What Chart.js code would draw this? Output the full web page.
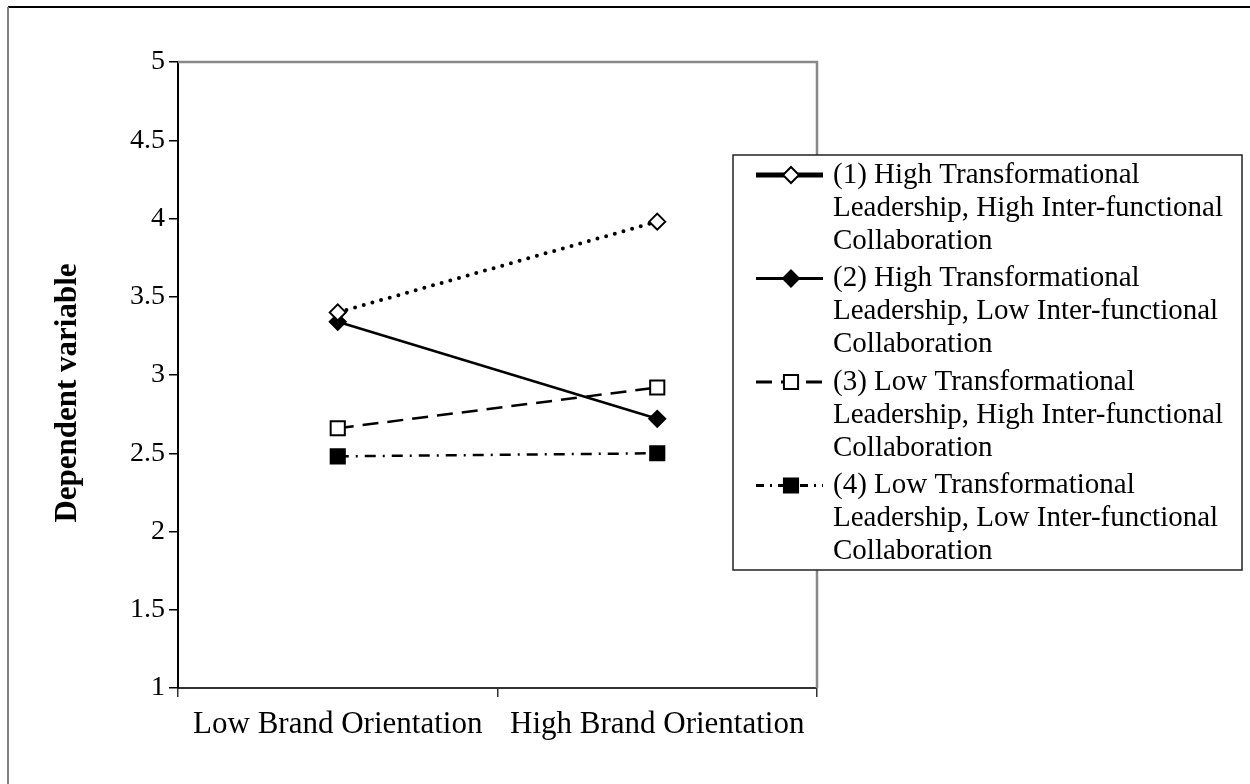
<!DOCTYPE html>
<html>
<head>
<meta charset="utf-8">
<script src="https://cdn.jsdelivr.net/npm/chart.js@4/dist/chart.umd.min.js"></script>
<style>
  html, body { margin: 0; padding: 0; background: #fff; }
  #wrap { width: 1250px; height: 784px; }
</style>
</head>
<body>
<div id="wrap"><canvas id="myChart" width="1250" height="784"></canvas></div>
<script>
'use strict';

// categories on the x axis
var categories = ['Low Brand Orientation', 'High Brand Orientation'];

// series labels
var seriesNames = [
  '(1) High Transformational Leadership, High Inter-functional Collaboration',
  '(2) High Transformational Leadership, Low Inter-functional Collaboration',
  '(3) Low Transformational Leadership, High Inter-functional Collaboration',
  '(4) Low Transformational Leadership, Low Inter-functional Collaboration'
];

// series values (low, high brand orientation)
var highTLhighIFC = [3.40, 3.98];
var highTLlowIFC = [3.34, 2.72];
var lowTLhighIFC = [2.66, 2.92];
var lowTLlowIFC = [2.48, 2.50];

// y axis
var yMin = 1;
var yMax = 5;
var yStep = 0.5;
var yTitle = 'Dependent variable';

var FONT = '"Liberation Serif", "Times New Roman", serif';

// legend line styles (the original legend draws series 1 as a thick solid line)
var legendDash = [[], [], [16, 9], [8, 6, 2, 6]];
var legendWidth = [5, 3, 3, 3];

function drawMarker(ctx, style, x, y, r, fill) {
  ctx.beginPath();
  if (style === 'rectRot') {
    ctx.moveTo(x, y - r);
    ctx.lineTo(x + r, y);
    ctx.lineTo(x, y + r);
    ctx.lineTo(x - r, y);
  } else {
    var s = Math.SQRT1_2 * r;
    ctx.rect(x - s, y - s, 2 * s, 2 * s);
  }
  ctx.closePath();
  ctx.fillStyle = fill;
  ctx.fill();
  ctx.lineWidth = 2;
  ctx.strokeStyle = '#000';
  ctx.stroke();
}

function wrapText(ctx, text, maxWidth) {
  var words = text.split(' ');
  var lines = [];
  var line = '';
  words.forEach(function (w) {
    var test = line ? line + ' ' + w : w;
    if (ctx.measureText(test).width > maxWidth && line) {
      lines.push(line);
      line = w;
    } else {
      line = test;
    }
  });
  if (line) lines.push(line);
  return lines;
}

var framePlugin = {
  id: 'frame',
  beforeDraw: function (chart) {
    var ctx = chart.ctx;
    ctx.save();
    ctx.fillStyle = '#fff';
    ctx.fillRect(0, 0, chart.width, chart.height);
    // outer frame (top and left only, as in the picture)
    ctx.strokeStyle = '#000';
    ctx.lineWidth = 2;
    ctx.beginPath();
    ctx.moveTo(8, 7);
    ctx.lineTo(chart.width, 7);
    ctx.stroke();
    ctx.strokeStyle = '#808080';
    ctx.beginPath();
    ctx.moveTo(8, 7);
    ctx.lineTo(8, chart.height);
    ctx.stroke();
    ctx.restore();
  },
  beforeDatasetsDraw: function (chart) {
    var a = chart.chartArea;
    var ctx = chart.ctx;
    ctx.save();
    ctx.strokeStyle = '#888';
    ctx.lineWidth = 2.5;
    ctx.beginPath();
    ctx.moveTo(a.left, a.top);
    ctx.lineTo(a.right, a.top);
    ctx.lineTo(a.right, a.bottom);
    ctx.stroke();

    // y axis title, sitting a little below the middle of the plot like the original
    ctx.fillStyle = '#000';
    ctx.font = 'bold 31px ' + FONT;
    ctx.textAlign = 'center';
    ctx.textBaseline = 'middle';
    ctx.translate(68, (a.top + a.bottom) / 2 + 18);
    ctx.rotate(-Math.PI / 2);
    ctx.fillText(yTitle, 0, 0);
    ctx.restore();
  }
};

var legendPlugin = {
  id: 'boxLegend',
  afterDraw: function (chart) {
    var ctx = chart.ctx;
    var box = { left: 733, top: 155, right: 1242, bottom: 570 };
    ctx.save();
    ctx.fillStyle = '#fff';
    ctx.fillRect(box.left, box.top, box.right - box.left, box.bottom - box.top);
    ctx.strokeStyle = '#222';
    ctx.lineWidth = 1.5;
    ctx.strokeRect(box.left, box.top, box.right - box.left, box.bottom - box.top);

    ctx.font = '29px ' + FONT;
    ctx.textBaseline = 'middle';
    ctx.textAlign = 'left';
    chart.data.datasets.forEach(function (ds, i) {
      var y0 = 175 + i * 103.5;
      ctx.strokeStyle = '#000';
      ctx.lineWidth = legendWidth[i];
      ctx.setLineDash(legendDash[i]);
      ctx.beginPath();
      ctx.moveTo(756, y0);
      ctx.lineTo(823, y0);
      ctx.stroke();
      ctx.setLineDash([]);
      drawMarker(ctx, ds.pointStyle, 791, y0, ds.pointRadius, ds.pointBackgroundColor);

      ctx.fillStyle = '#000';
      var lines = wrapText(ctx, ds.label, box.right - 833 - 8);
      lines.forEach(function (ln, j) {
        ctx.fillText(ln, 833, y0 + j * 33);
      });
    });
    ctx.restore();
  }
};

var ctx = document.getElementById('myChart');

new Chart(ctx, {
  type: 'line',
  data: {
    labels: categories,
    datasets: [
      {
        label: seriesNames[0],
        data: highTLhighIFC,
        borderColor: '#000',
        borderWidth: 4,
        borderDash: [0, 9],
        borderCapStyle: 'round',
        pointStyle: 'rectRot',
        pointRadius: 8,
        pointBorderWidth: 2,
        pointBackgroundColor: '#fff',
        pointBorderColor: '#000'
      },
      {
        label: seriesNames[1],
        data: highTLlowIFC,
        borderColor: '#000',
        borderWidth: 2.5,
        pointStyle: 'rectRot',
        pointRadius: 8,
        pointBorderWidth: 2,
        pointBackgroundColor: '#000',
        pointBorderColor: '#000'
      },
      {
        label: seriesNames[2],
        data: lowTLhighIFC,
        borderColor: '#000',
        borderWidth: 2.5,
        borderDash: [16, 9],
        pointStyle: 'rect',
        pointRadius: 10,
        pointBorderWidth: 2,
        pointBackgroundColor: '#fff',
        pointBorderColor: '#000'
      },
      {
        label: seriesNames[3],
        data: lowTLlowIFC,
        borderColor: '#000',
        borderWidth: 2.5,
        borderDash: [11, 7, 2, 7],
        pointStyle: 'rect',
        pointRadius: 10,
        pointBorderWidth: 2,
        pointBackgroundColor: '#000',
        pointBorderColor: '#000'
      }
    ]
  },
  options: {
    responsive: false,
    animation: false,
    layout: {
      padding: { top: 62, right: 433, left: 0, bottom: 0 }
    },
    plugins: {
      legend: { display: false },
      tooltip: { enabled: false }
    },
    scales: {
      x: {
        offset: true,
        grid: {
          offset: true,
          drawOnChartArea: false,
          tickLength: 9,
          color: '#333',
          lineWidth: 1.5
        },
        border: { color: '#333', width: 2 },
        ticks: {
          color: '#000',
          font: { family: FONT, size: 31 },
          padding: 9,
          maxRotation: 0,
          autoSkip: false
        },
        afterFit: function (scale) {
          scale.height = 96;
        }
      },
      y: {
        min: yMin,
        max: yMax,
        ticks: {
          stepSize: yStep,
          color: '#000',
          font: { family: FONT, size: 28 },
          padding: 4,
          callback: function (value) {
            return String(value);
          }
        },
        grid: {
          drawOnChartArea: false,
          tickLength: 9,
          color: '#000',
          lineWidth: 1.5
        },
        border: { color: '#000', width: 2 },
        title: { display: false },
        afterFit: function (scale) {
          scale.width = 178;
        }
      }
    }
  },
  plugins: [framePlugin, legendPlugin]
});
</script>
</body>
</html>
